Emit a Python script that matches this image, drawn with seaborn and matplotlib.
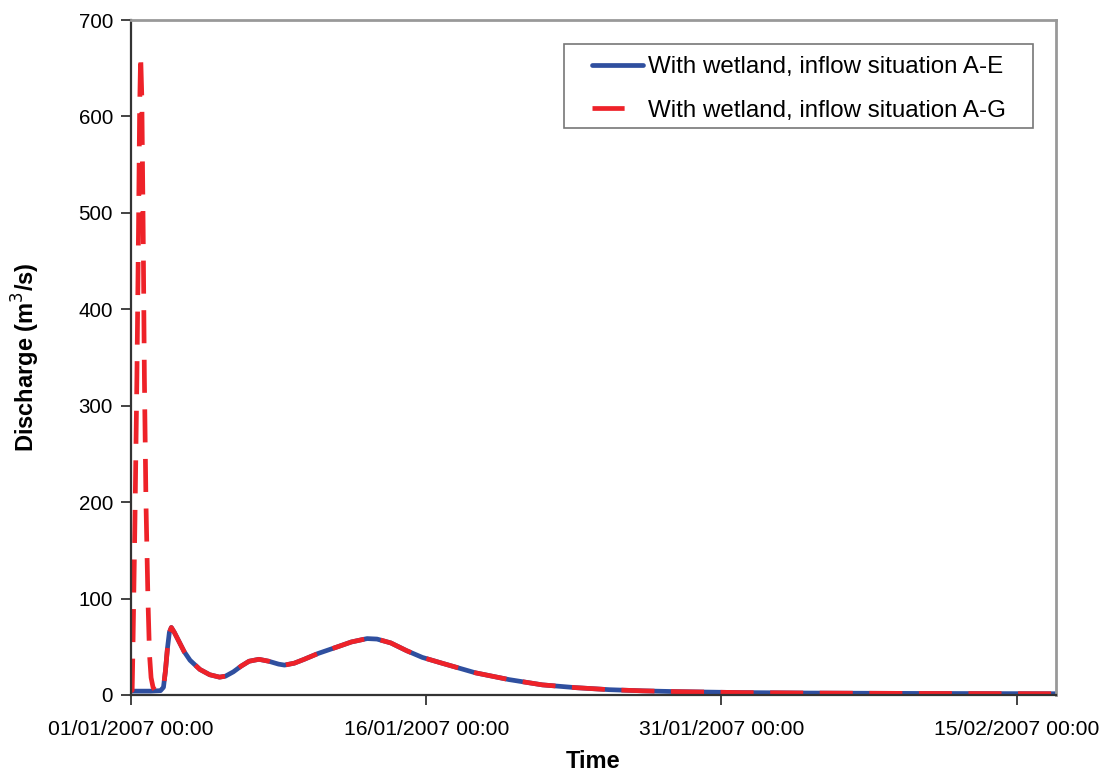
"""
Discharge at the wetland outlet, inflow situations A-E and A-G.
"""
import matplotlib
matplotlib.use("Agg")
import matplotlib.pyplot as plt
import matplotlib.dates as mdates
from matplotlib.lines import Line2D
from matplotlib.patches import Rectangle
import seaborn as sns
import pandas as pd

START = pd.Timestamp("2007-01-01 00:00")
END = pd.Timestamp("2007-02-17 00:00")

# time in days after START, discharge in m3/s
ae_days = [0.0, 1.0, 1.5, 1.65, 1.75, 1.85, 1.95, 2.05, 2.2, 2.45, 2.7, 3.0,
           3.5, 4.0, 4.5, 4.8, 5.2, 5.6, 6.0, 6.5, 7.0, 7.5, 7.8, 8.3, 8.8,
           9.5, 10.5, 11.2, 12.0, 12.5, 13.2, 14.0, 14.8, 15.8, 17.5, 19.2,
           20.9, 22.6, 24.3, 26.0, 27.7, 31.0, 34.5, 40.0, 47.0]
ae_values = [4, 4, 4.5, 8, 25, 48, 65, 70, 65, 55, 45, 36,
             26.5, 21, 18.5, 19.5, 24, 30, 35, 37, 35, 32, 31, 33, 37,
             43, 50, 55, 58.5, 58, 54, 46, 39, 33, 23, 16,
             10.5, 7.6, 5.5, 4.3, 3.5, 2.5, 2.0, 1.6, 1.3]

ag_days = [0.0, 0.06, 0.1, 0.2, 0.3, 0.38, 0.44, 0.49, 0.55, 0.62, 0.68,
           0.76, 0.86, 0.94, 1.02, 1.12, 1.22, 1.4, 1.55, 1.65, 1.75, 1.85,
           1.95, 2.05, 2.2, 2.45, 2.7, 3.0, 3.5, 4.0, 4.5, 4.8, 5.2, 5.6,
           6.0, 6.5, 7.0, 7.5, 7.8, 8.3, 8.8, 9.5, 10.5, 11.2, 12.0, 12.5,
           13.2, 14.0, 14.8, 15.8, 17.5, 19.2, 20.9, 22.6, 24.3, 26.0, 27.7,
           31.0, 34.5, 40.0, 47.0]
ag_values = [4, 5, 50, 180, 330, 480, 610, 664, 620, 480, 330,
             200, 100, 42, 18, 8, 5, 5, 6, 8, 25, 48,
             65, 70, 65, 55, 45, 36, 26.5, 21, 18.5, 19.5, 24, 30,
             35, 37, 35, 32, 31, 33, 37, 43, 50, 55, 58.5, 58,
             54, 46, 39, 33, 23, 16, 10.5, 7.6, 5.5, 4.3, 3.5,
             2.5, 2.0, 1.6, 1.3]

tick_dates = ["2007-01-01", "2007-01-16", "2007-01-31", "2007-02-15"]
y_ticks = [0, 100, 200, 300, 400, 500, 600, 700]

LABEL_AE = "With wetland, inflow situation A-E"
LABEL_AG = "With wetland, inflow situation A-G"
BLUE = "#2f4f9f"
RED = "#ee2229"

sns.set_theme(style="white")
plt.rcParams["font.family"] = ["Liberation Sans", "DejaVu Sans"]
plt.rcParams["text.color"] = "black"
plt.rcParams["axes.labelcolor"] = "black"

ae = pd.DataFrame({"time": START + pd.to_timedelta(ae_days, unit="D"),
                   "q": ae_values})
ag = pd.DataFrame({"time": START + pd.to_timedelta(ag_days, unit="D"),
                   "q": ag_values})

W, H = 1099, 776
fig = plt.figure(figsize=(W / 100, H / 100), dpi=100)
ax = fig.add_axes([0.1192, 0.1044, 0.8416, 0.8698])

sns.lineplot(data=ae, x="time", y="q", ax=ax, color=BLUE, lw=3.4)
sns.lineplot(data=ag, x="time", y="q", ax=ax, color=RED, lw=3.4,
             linestyle=(0, (7, 3.5)))

ax.set_xlim(START, END)
ax.set_ylim(0, 700)
ax.set_yticks(y_ticks)
ax.set_xticks(pd.to_datetime(tick_dates))
ax.xaxis.set_major_formatter(mdates.DateFormatter("%d/%m/%Y %H:%M"))
ax.tick_params(axis="both", direction="out", length=7, width=1.2,
               color="#222222", labelcolor="black", bottom=True, left=True)
ax.tick_params(axis="x", pad=11, labelsize=15.2)
ax.tick_params(axis="y", pad=6, labelsize=14.8)

for side in ["left", "bottom"]:
    ax.spines[side].set_color("#333333")
    ax.spines[side].set_linewidth(1.6)
for side in ["top", "right"]:
    ax.spines[side].set_color("#999999")
    ax.spines[side].set_linewidth(2)

ax.set_xlabel("Time", fontsize=17, fontweight="bold", labelpad=8)
ax.set_ylabel("Discharge (m$^3$/s)", fontsize=17, fontweight="bold",
              labelpad=26)

# legend frame drawn by hand: the original has wide side margins, tight top/bottom
frame = Rectangle((564 / W, 1 - 128 / H), (1033 - 564) / W, (128 - 44) / H,
                  transform=fig.transFigure, facecolor="white",
                  edgecolor="#777777", lw=1.2, zorder=4)
fig.patches.append(frame)

handles = [Line2D([], [], color=BLUE, lw=3.4),
           Line2D([], [], color=RED, lw=3.4, linestyle=(0.6, (7.4, 12)))]
leg = fig.legend(handles, [LABEL_AE, LABEL_AG], loc="upper left",
                 bbox_to_anchor=(592 / W, 1 - 56 / H), fontsize=17.4,
                 frameon=False, handlelength=2.1, handletextpad=0.2,
                 borderpad=0, labelspacing=0.9, borderaxespad=0)
leg.set_zorder(5)

fig.savefig("out.png", dpi=100)
plt.close(fig)
